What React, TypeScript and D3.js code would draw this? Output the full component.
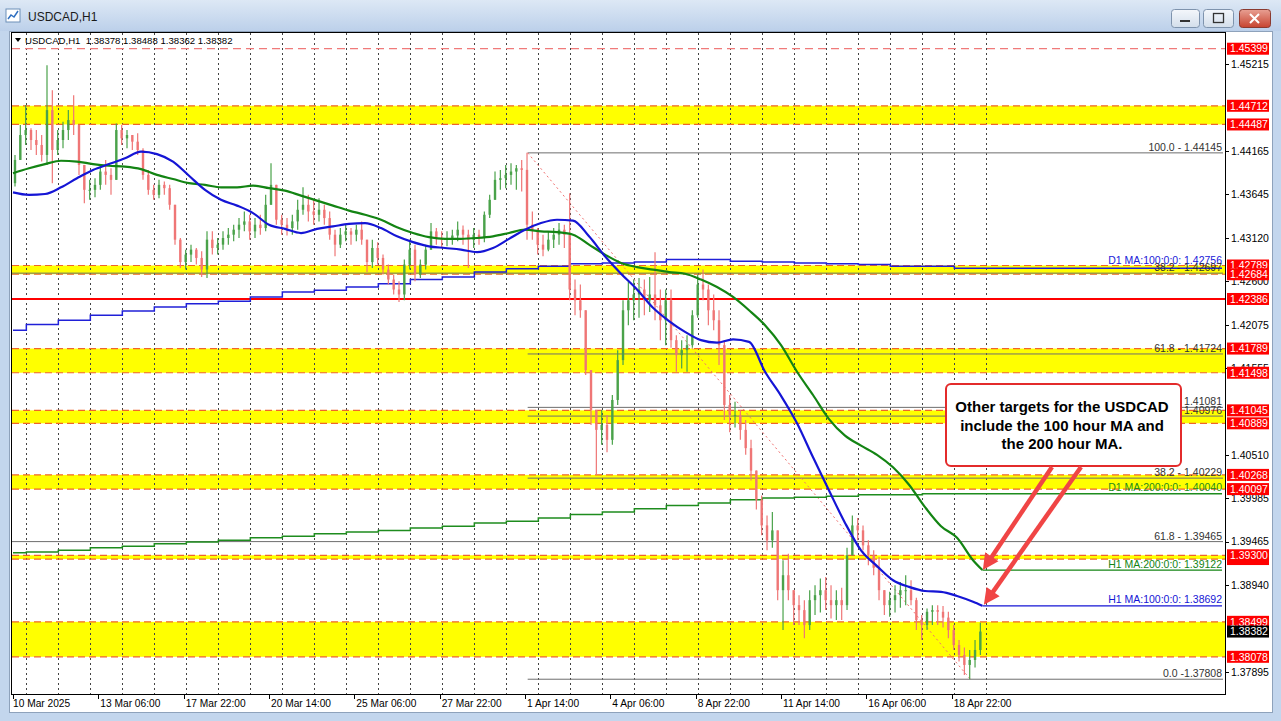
import React, { useEffect } from 'react';
import * as d3 from 'd3';

// ---------------- data ----------------
const chartTitle = 'USDCAD,H1';
const lastBarOHLC = [1.38378, 1.38488, 1.38362, 1.38382];
// visible price-scale ticks (1.44690, 1.41030, 1.38420 are hidden behind level labels in the reference)
const priceTicks = [1.45215, 1.44165, 1.43645, 1.4312, 1.426, 1.42075, 1.41555, 1.4051, 1.39985, 1.39465, 1.3894, 1.37895];
const timeLabels = ['10 Mar 2025', '13 Mar 06:00', '17 Mar 22:00', '20 Mar 14:00', '25 Mar 06:00', '27 Mar 22:00', '1 Apr 14:00', '4 Apr 06:00', '8 Apr 22:00', '11 Apr 14:00', '16 Apr 06:00', '18 Apr 22:00'];
const timeLabelBars = [0, 64, 128, 192, 256, 320, 384, 448, 512, 576, 640, 704];

// 4-hour candles
const firstOpen = 1.4378;
const highs = [
  1.4412, 1.4448, 1.4472, 1.4444, 1.4442, 1.4436, 1.4520, 1.4490, 1.4442, 1.4452,
  1.4466, 1.4484, 1.4436, 1.4400, 1.4382, 1.4384, 1.4400, 1.4406, 1.4396, 1.4450,
  1.4448, 1.4442, 1.4436, 1.4438, 1.4420, 1.4394, 1.4376, 1.4382, 1.4380, 1.4376,
  1.4352, 1.4312, 1.4298, 1.4304, 1.4300, 1.4296, 1.4320, 1.4320, 1.4312, 1.4320,
  1.4324, 1.4328, 1.4336, 1.4344, 1.4340, 1.4336, 1.4340, 1.4364, 1.4402, 1.4376,
  1.4340, 1.4336, 1.4340, 1.4358, 1.4373, 1.4364, 1.4358, 1.4360, 1.4352, 1.4344,
  1.4322, 1.4324, 1.4328, 1.4324, 1.4328, 1.4332, 1.4310, 1.4310, 1.4307, 1.4292,
  1.4280, 1.4268, 1.4260, 1.4286, 1.4310, 1.4304, 1.4286, 1.4304, 1.4330, 1.4324,
  1.4320, 1.4320, 1.4322, 1.4332, 1.4327, 1.4322, 1.4324, 1.4322, 1.4344, 1.4364,
  1.4392, 1.4394, 1.4400, 1.4402, 1.4400, 1.4406, 1.44145, 1.4344, 1.4324, 1.4316,
  1.4320, 1.4324, 1.4330, 1.4328, 1.4366, 1.4262, 1.4256, 1.4225, 1.4153, 1.4099,
  1.4105, 1.4099, 1.4123, 1.4177, 1.4237, 1.4259, 1.4262, 1.4264, 1.4262, 1.4265,
  1.4295, 1.4250, 1.4250, 1.4250, 1.4195, 1.4189, 1.4195, 1.4225, 1.4268, 1.4274,
  1.4256, 1.4244, 1.4225, 1.4189, 1.4123, 1.4115, 1.4105, 1.4093, 1.4069, 1.4032,
  1.4002, 1.3978, 1.3982, 1.3960, 1.3924, 1.3932, 1.3888, 1.3882, 1.3876, 1.3888,
  1.3894, 1.3902, 1.3904, 1.3894, 1.3888, 1.3891, 1.3939, 1.3978, 1.3975, 1.3966,
  1.3948, 1.3936, 1.3928, 1.3888, 1.3886, 1.3894, 1.3898, 1.3906, 1.3900, 1.3879,
  1.3858, 1.3866, 1.3870, 1.3870, 1.3869, 1.3862, 1.3846, 1.3828, 1.3819, 1.3816,
  1.3828, 1.38488,
];
const lows = [
  1.4374, 1.4406, 1.4424, 1.4418, 1.4412, 1.4404, 1.4400, 1.4378, 1.4412, 1.4420,
  1.4430, 1.4436, 1.4388, 1.4354, 1.4358, 1.4361, 1.4370, 1.4376, 1.4364, 1.4382,
  1.4424, 1.4420, 1.4418, 1.4412, 1.4382, 1.4364, 1.4358, 1.4360, 1.4364, 1.4346,
  1.4304, 1.4276, 1.4274, 1.4283, 1.4280, 1.4265, 1.4264, 1.4292, 1.4292, 1.4298,
  1.4304, 1.4308, 1.4312, 1.4320, 1.4310, 1.4312, 1.4316, 1.4320, 1.4352, 1.4328,
  1.4316, 1.4315, 1.4316, 1.4322, 1.4340, 1.4332, 1.4328, 1.4332, 1.4328, 1.4310,
  1.4290, 1.4300, 1.4308, 1.4304, 1.4308, 1.4304, 1.4271, 1.4276, 1.4280, 1.4268,
  1.4256, 1.4244, 1.4235, 1.4237, 1.4274, 1.4260, 1.4264, 1.4274, 1.4304, 1.4304,
  1.4300, 1.4302, 1.4304, 1.4308, 1.4304, 1.4276, 1.4300, 1.4304, 1.4307, 1.4336,
  1.4360, 1.4370, 1.4372, 1.4376, 1.4370, 1.4368, 1.4310, 1.4310, 1.4292, 1.4290,
  1.4296, 1.4300, 1.4304, 1.4300, 1.4237, 1.4219, 1.4216, 1.4147, 1.4087, 1.4027,
  1.4063, 1.4054, 1.4063, 1.4111, 1.4159, 1.4207, 1.4213, 1.4216, 1.4219, 1.4223,
  1.4213, 1.4189, 1.4183, 1.4180, 1.4151, 1.4155, 1.4151, 1.4180, 1.4216, 1.4237,
  1.4207, 1.4201, 1.4159, 1.4093, 1.4078, 1.4084, 1.4069, 1.4051, 1.4020, 1.3985,
  1.3954, 1.3936, 1.3939, 1.3876, 1.3840, 1.3876, 1.3846, 1.3846, 1.3830, 1.3840,
  1.3858, 1.3861, 1.3864, 1.3854, 1.3852, 1.3852, 1.3864, 1.3942, 1.3948, 1.3936,
  1.3918, 1.3906, 1.3876, 1.3858, 1.3856, 1.3861, 1.3867, 1.3870, 1.3870, 1.3840,
  1.3828, 1.3840, 1.3846, 1.3846, 1.3843, 1.3830, 1.3816, 1.3802, 1.3786, 1.37808,
  1.3795, 1.3810,
];
const closes = [
  1.4406, 1.4436, 1.4442, 1.4430, 1.4424, 1.4412, 1.4466, 1.4418, 1.4430, 1.4442,
  1.4454, 1.4448, 1.4400, 1.4370, 1.4370, 1.4376, 1.4392, 1.4388, 1.4382, 1.4442,
  1.4432, 1.4436, 1.4428, 1.4418, 1.4388, 1.4370, 1.4364, 1.4376, 1.4372, 1.4352,
  1.4310, 1.4283, 1.4292, 1.4298, 1.4288, 1.4274, 1.4310, 1.4300, 1.4304, 1.4312,
  1.4316, 1.4322, 1.4328, 1.4332, 1.4320, 1.4328, 1.4324, 1.4352, 1.4376, 1.4334,
  1.4328, 1.4324, 1.4332, 1.4346, 1.4352, 1.4344, 1.4340, 1.4346, 1.4336, 1.4316,
  1.4304, 1.4316, 1.4320, 1.4316, 1.4322, 1.4310, 1.4283, 1.4300, 1.4288, 1.4274,
  1.4262, 1.4250, 1.4244, 1.4280, 1.4298, 1.4268, 1.4280, 1.4298, 1.4320, 1.4312,
  1.4310, 1.4312, 1.4315, 1.4322, 1.4316, 1.4310, 1.4316, 1.4312, 1.4340, 1.4358,
  1.4382, 1.4384, 1.4388, 1.4392, 1.4396, 1.4394, 1.4328, 1.4322, 1.4304, 1.4298,
  1.4310, 1.4316, 1.4322, 1.4316, 1.4250, 1.4237, 1.4225, 1.4153, 1.4105, 1.4081,
  1.4087, 1.4069, 1.4117, 1.4165, 1.4225, 1.4237, 1.4244, 1.4250, 1.4237, 1.4244,
  1.4231, 1.4213, 1.4237, 1.4189, 1.4171, 1.4177, 1.4183, 1.4219, 1.4256, 1.4250,
  1.4225, 1.4213, 1.4183, 1.4111, 1.4099, 1.4099, 1.4081, 1.4059, 1.4032, 1.3997,
  1.3966, 1.3948, 1.3960, 1.3888, 1.3906, 1.3888, 1.3870, 1.3864, 1.3846, 1.3876,
  1.3882, 1.3888, 1.3876, 1.3870, 1.3876, 1.3870, 1.3930, 1.3966, 1.3960, 1.3942,
  1.3930, 1.3915, 1.3888, 1.3870, 1.3876, 1.3882, 1.3888, 1.3888, 1.3876, 1.3852,
  1.3846, 1.3862, 1.3864, 1.3862, 1.3855, 1.3840, 1.3822, 1.3810, 1.3798, 1.3804,
  1.3816, 1.38382,
];

// hourly moving averages, read every 12 bars
const ma100 = [
  1.4367, 1.4364, 1.4365, 1.4373, 1.4384, 1.4394, 1.4401, 1.4408, 1.4416, 1.4413,
  1.4404, 1.4387, 1.4370, 1.4358, 1.4351, 1.4342, 1.4328, 1.4323, 1.4318, 1.4323,
  1.4326, 1.4329, 1.4330, 1.4324, 1.4314, 1.4307, 1.4302, 1.4300, 1.4298, 1.4295,
  1.4300, 1.4311, 1.4322, 1.4330, 1.4334, 1.4333, 1.4314, 1.4290, 1.4269, 1.4250,
  1.4228, 1.4212, 1.4199, 1.4189, 1.4186, 1.4190, 1.4187, 1.4151, 1.4122, 1.4089,
  1.4048, 1.4008, 1.3969, 1.3936, 1.3917, 1.3900, 1.3892, 1.3887, 1.3886, 1.3881,
  1.3874, 1.38692,
];
const ma200 = [
  1.4390, 1.4396, 1.4401, 1.4405, 1.4404, 1.4401, 1.4399, 1.4398, 1.4395, 1.4388,
  1.4383, 1.4378, 1.4376, 1.4373, 1.4373, 1.4375, 1.4372, 1.4369, 1.4363, 1.4357,
  1.4351, 1.4345, 1.4340, 1.4334, 1.4325, 1.4318, 1.4313, 1.4311, 1.4311, 1.4312,
  1.4314, 1.4318, 1.4322, 1.4320, 1.4319, 1.4316, 1.4304, 1.4292, 1.4282, 1.4277,
  1.4274, 1.4271, 1.4269, 1.4262, 1.4253, 1.4241, 1.4225, 1.4207, 1.4183, 1.4151,
  1.4123, 1.4094, 1.4074, 1.4062, 1.4051, 1.4036, 1.4015, 1.3988, 1.3965, 1.3951,
  1.3924, 1.39122,
];
// daily moving averages (one value per trading day)
const d1Ma100 = [
  1.4201, 1.4208, 1.4213, 1.4219, 1.4224, 1.4229, 1.4233, 1.4236, 1.4241, 1.4247,
  1.4249, 1.4253, 1.4257, 1.4262, 1.4265, 1.4271, 1.4275, 1.4278, 1.4281, 1.4282,
  1.4283, 1.4286, 1.4286, 1.4284, 1.4283, 1.4282, 1.4281, 1.4280, 1.4278, 1.4278,
  1.42756,
];
const d1Ma200 = [
  1.3933, 1.3934, 1.3936, 1.3939, 1.3941, 1.3944, 1.3946, 1.3948, 1.3951, 1.3953,
  1.3956, 1.3958, 1.3960, 1.3963, 1.3965, 1.3969, 1.3971, 1.3975, 1.3979, 1.3982,
  1.3986, 1.3990, 1.3993, 1.3997, 1.3999, 1.4000, 1.4001, 1.4003, 1.4003, 1.4004,
  1.4004,
];

// horizontal zones and levels
const zoneTops = [1.44712, 1.42789, 1.41789, 1.41045, 1.40268, 1.393, 1.38499];
const zoneBottoms = [1.44487, 1.42684, 1.41498, 1.40889, 1.40097, 1.39255, 1.38078];
const dashedRedLevel = 1.45399;
const solidRedLevel = 1.42386;
const hiddenRedLabel = 1.39255;
const redLabelLevels = [1.45399, 1.44712, 1.44487, 1.42789, 1.42684, 1.42386, 1.41789, 1.41498, 1.41045, 1.40889, 1.40268, 1.40097, 1.393, 1.38499, 1.38078];
const fullFibLevels = [1.42697, 1.39465];
const fullFibNames = ['38.2 - 1.42697', '61.8 - 1.39465'];
const fibLevels = [1.44145, 1.41724, 1.41081, 1.40976, 1.40229, 1.37808];
const fibNames = ['100.0 - 1.44145', '61.8 - 1.41724', '- 1.41081', '- 1.40976', '38.2 - 1.40229', '0.0 -1.37808'];
const fibStartBar = 386;
const fibEndBar = 718;
const maNames = ['H1 MA:100:0:0: 1.38692', 'H1 MA:200:0:0: 1.39122', 'D1 MA:100:0:0: 1.42756', 'D1 MA:200:0:0: 1.40040'];
const calloutLines = ['Other targets for the USDCAD', 'include the 100 hour MA and', 'the 200 hour MA.'];

// ---------------- layout ----------------
const W = 1281, H = 721;
const PL = 12, PR = 1225, PT = 33, PB = 694;
const LAST_BAR = 727;
const FONT = "'Liberation Sans', Arial, sans-serif";

const maBars = d3.range(0, 721, 12).concat([LAST_BAR]);
const d1Starts = [0].concat(d3.range(10, 730, 24));
const gridBars = d3.range(10, 731, 24);

function Arrow({ x1, y1, x2, y2, color }: { x1: number; y1: number; x2: number; y2: number; color: string }) {
  const dx = x2 - x1, dy = y2 - y1;
  const len = Math.hypot(dx, dy);
  const ux = dx / len, uy = dy / len;
  const hl = 16, hw = 8;
  const bx = x2 - ux * hl, by = y2 - uy * hl;
  const px = -uy, py = ux;
  const pts = `${x2},${y2} ${bx + px * hw},${by + py * hw} ${bx - px * hw},${by - py * hw}`;
  return (
    <g>
      <line x1={x1} y1={y1} x2={bx + ux * 2} y2={by + uy * 2} stroke={color} strokeWidth={4.5} />
      <polygon points={pts} fill={color} />
    </g>
  );
}

export default function App() {
  useEffect(() => {
    document.body.style.margin = '0';
  }, []);

  const x = d3.scaleLinear().domain([0, 728]).range([13, 983.7]);
  const y = d3.scaleLinear().domain([1.37895, 1.45215]).range([672, 64]);

  const maLine = (vals: number[]) =>
    d3.line<number>().x((_, i) => x(maBars[i])).y((d) => y(d)).curve(d3.curveMonotoneX)(vals) || '';

  const stepLine = (vals: number[]) => {
    const pts: [number, number][] = d1Starts.map((b, i) => [x(b), y(vals[i])]);
    pts.push([x(730), y(vals[vals.length - 1])]);
    pts.push([PR - 3, y(vals[vals.length - 1])]);
    return d3.line().curve(d3.curveStepAfter)(pts) || '';
  };

  const bull = '#4aa24a';
  const bear = '#ef7676';
  const bodyW = (x(4) - x(0)) * 0.45;

  const candles = closes.map((c, j) => {
    const o = j === 0 ? firstOpen : closes[j - 1];
    const hi = Math.max(highs[j], o, c);
    const lo = Math.min(lows[j], o, c);
    const cx = x(j * 4 + 1.5);
    const col = c >= o ? bull : bear;
    const top = y(Math.max(o, c));
    const bh = Math.max(1, y(Math.min(o, c)) - top);
    return (
      <g key={j}>
        <line x1={cx} x2={cx} y1={y(hi)} y2={y(lo)} stroke={col} strokeWidth={1.2} />
        <rect x={cx - bodyW / 2} y={top} width={bodyW} height={bh} fill={col} />
      </g>
    );
  });

  const lastMaX = x(LAST_BAR);
  const ma100Last = ma100[ma100.length - 1];
  const ma200Last = ma200[ma200.length - 1];
  const zoneDash = '7,4';

  return (
    <svg width={W} height={H} style={{ position: 'absolute', left: 0, top: 0, display: 'block' }} fontFamily={FONT}>
      <defs>
        <linearGradient id="tbar" x1="0" y1="0" x2="0" y2="1">
          <stop offset="0" stopColor="#dde8f5" />
          <stop offset="1" stopColor="#bcd0ea" />
        </linearGradient>
        <linearGradient id="btn" x1="0" y1="0" x2="0" y2="1">
          <stop offset="0" stopColor="#f4f7fb" />
          <stop offset="1" stopColor="#d3deeb" />
        </linearGradient>
        <linearGradient id="cls" x1="0" y1="0" x2="0" y2="1">
          <stop offset="0" stopColor="#e8a093" />
          <stop offset="1" stopColor="#c7432f" />
        </linearGradient>
        <clipPath id="plotClip">
          <rect x={PL} y={PT} width={PR - PL} height={PB - PT} />
        </clipPath>
      </defs>

      {/* window chrome */}
      <rect width={W} height={H} fill="#c3d6ed" />
      <rect x={0} y={0} width={W} height={31} fill="url(#tbar)" />
      <rect x={6} y={9} width={14} height={13} fill="#ffffff" stroke="#6d8fb8" />
      <polyline points="8,19 11,15 14,17 18,11" fill="none" stroke="#2f6fc0" strokeWidth={1.5} />
      <text x={28} y={21} fontSize={12} fill="#1a1a1a">{chartTitle}</text>
      <rect x={1171.5} y={9.5} width={28} height={18} rx={3} fill="url(#btn)" stroke="#7e93ad" />
      <line x1={1180} x2={1190} y1={21} y2={21} stroke="#333" strokeWidth={2} />
      <rect x={1203.5} y={9.5} width={30} height={18} rx={3} fill="url(#btn)" stroke="#7e93ad" />
      <rect x={1213.5} y={13.5} width={10} height={9} fill="none" stroke="#333" strokeWidth={1.3} />
      <rect x={1239.5} y={9.5} width={31} height={18} rx={3} fill="url(#cls)" stroke="#8a3a30" />
      <path d="M1250,14 L1259,23 M1259,14 L1250,23" stroke="#fff" strokeWidth={2} />
      <rect x={9.5} y={31.5} width={1263} height={681} fill="#ffffff" stroke="#8ea2bb" />

      {/* zones */}
      <g clipPath="url(#plotClip)">
        {zoneTops.map((t, i) => (
          <rect key={i} x={PL} y={y(t)} width={PR - PL} height={y(zoneBottoms[i]) - y(t)} fill="#ffff00" />
        ))}
        {/* grid */}
        {gridBars.map((b) => (
          <line key={b} x1={Math.round(x(b)) + 0.5} x2={Math.round(x(b)) + 0.5} y1={PT} y2={PB} stroke="#444" strokeWidth={1} strokeDasharray="2,3" />
        ))}
        {/* zone edges */}
        {zoneTops.concat(zoneBottoms).map((v, i) => (
          <line key={i} x1={PL} x2={PR} y1={y(v)} y2={y(v)} stroke="#f0652a" strokeWidth={1.2} strokeDasharray={zoneDash} />
        ))}
        <line x1={PL} x2={PR} y1={y(dashedRedLevel)} y2={y(dashedRedLevel)} stroke="#f07a7a" strokeWidth={1.2} strokeDasharray="8,5" />
        <line x1={PL} x2={PR} y1={y(solidRedLevel)} y2={y(solidRedLevel)} stroke="#ff0000" strokeWidth={2} />

        {/* fibonacci */}
        {fullFibLevels.map((v, i) => (
          <line key={i} x1={PL} x2={PR - 2} y1={y(v)} y2={y(v)} stroke="#6e6e6e" strokeWidth={1} />
        ))}
        {fibLevels.map((v, i) => (
          <line key={i} x1={x(fibStartBar)} x2={PR - 2} y1={y(v)} y2={y(v)} stroke="#6e6e6e" strokeWidth={1} />
        ))}
        <line x1={x(fibStartBar)} y1={y(fibLevels[0])} x2={x(fibEndBar)} y2={y(fibLevels[fibLevels.length - 1])} stroke="#f07070" strokeWidth={1} strokeDasharray="2,3" />

        {/* daily MAs */}
        <path d={stepLine(d1Ma200)} fill="none" stroke="#1e8c1e" strokeWidth={1.5} />
        <path d={stepLine(d1Ma100)} fill="none" stroke="#2020d8" strokeWidth={1.5} />

        {/* candles */}
        {candles}

        {/* hourly MAs */}
        <path d={maLine(ma200)} fill="none" stroke="#138413" strokeWidth={2.2} />
        <path d={maLine(ma100)} fill="none" stroke="#1515d5" strokeWidth={2.2} />
        <line x1={lastMaX} x2={PR - 3} y1={y(ma200Last)} y2={y(ma200Last)} stroke="#138413" strokeWidth={1.2} />
        <line x1={lastMaX} x2={PR - 3} y1={y(ma100Last)} y2={y(ma100Last)} stroke="#1515d5" strokeWidth={1.2} />
      </g>

      {/* level texts */}
      <g fontSize={10.5} textAnchor="end">
        <text x={PR - 3} y={y(d1Ma100[d1Ma100.length - 1]) - 4} fill="#2020d8">{maNames[2]}</text>
        {fullFibLevels.map((v, i) => (
          <text key={i} x={PR - 3} y={y(v) - 2} fill="#333">{fullFibNames[i]}</text>
        ))}
        {fibLevels.map((v, i) => (
          <text key={i} x={PR - 3} y={y(v) - 2} fill="#333">{fibNames[i]}</text>
        ))}
        <text x={PR - 3} y={y(d1Ma200[d1Ma200.length - 1]) - 2.5} fill="#1e8c1e">{maNames[3]}</text>
        <text x={PR - 3} y={y(ma200Last) - 2.5} fill="#138413">{maNames[1]}</text>
        <text x={PR - 3} y={y(ma100Last) - 2.5} fill="#1515d5">{maNames[0]}</text>
      </g>

      {/* chart header */}
      <polygon points="15,38 21,38 18,42" fill="#000" />
      <text x={25} y={44} fontSize={9.6} fill="#000" style={{ whiteSpace: 'pre' }}>
        {`${chartTitle}  ${lastBarOHLC.map((v) => v.toFixed(5)).join(' ')}`}
      </text>

      {/* plot frame */}
      <rect x={PL - 0.5} y={PT - 0.5} width={PR - PL + 1} height={PB - PT + 1} fill="none" stroke="#000" strokeWidth={1} />

      {/* right axis */}
      <g fontSize={10.5}>
        {priceTicks.map((p) => (
          <g key={p}>
            <line x1={PR} x2={PR + 4} y1={Math.round(y(p)) + 0.5} y2={Math.round(y(p)) + 0.5} stroke="#000" />
            <text x={PR + 6} y={y(p)} dy="0.36em" fill="#000">{p.toFixed(5)}</text>
          </g>
        ))}
        <rect x={PR + 2} y={y(hiddenRedLabel) - 6} width={42} height={12} fill="#ff0000" />
        {redLabelLevels.map((p) => (
          <g key={p}>
            <rect x={PR + 2} y={y(p) - 6} width={42} height={12} fill="#ff0000" />
            <text x={PR + 5} y={y(p)} dy="0.36em" fill="#fff">{p.toFixed(5)}</text>
          </g>
        ))}
        <rect x={PR + 2} y={y(lastBarOHLC[3]) - 6} width={42} height={12} fill="#000" />
        <text x={PR + 5} y={y(lastBarOHLC[3])} dy="0.36em" fill="#fff">{lastBarOHLC[3].toFixed(5)}</text>
      </g>

      {/* bottom axis */}
      <g fontSize={10.2}>
        {timeLabelBars.map((b, i) => (
          <g key={b}>
            <line x1={Math.round(x(b)) + 0.5} x2={Math.round(x(b)) + 0.5} y1={PB} y2={PB + 5} stroke="#000" />
            <text x={x(b) + (i === 0 ? 0 : 2)} y={PB + 13} fill="#000">{timeLabels[i]}</text>
          </g>
        ))}
      </g>

      {/* callout */}
      <rect x={946} y={384} width={235} height={82} rx={5} fill="#ffffff" stroke="#e32b2b" strokeWidth={2} />
      <g fontSize={15} fontWeight="bold" textAnchor="middle" fill="#000">
        {calloutLines.map((t, i) => (
          <text key={i} x={1062} y={412 + i * 18.5}>{t}</text>
        ))}
      </g>
      <Arrow x1={1052} y1={467} x2={lastMaX + 0.5} y2={y(ma200Last)} color="#f04545" />
      <Arrow x1={1081} y1={467} x2={lastMaX + 1.5} y2={y(ma100Last) - 1} color="#f04545" />
    </svg>
  );
}
